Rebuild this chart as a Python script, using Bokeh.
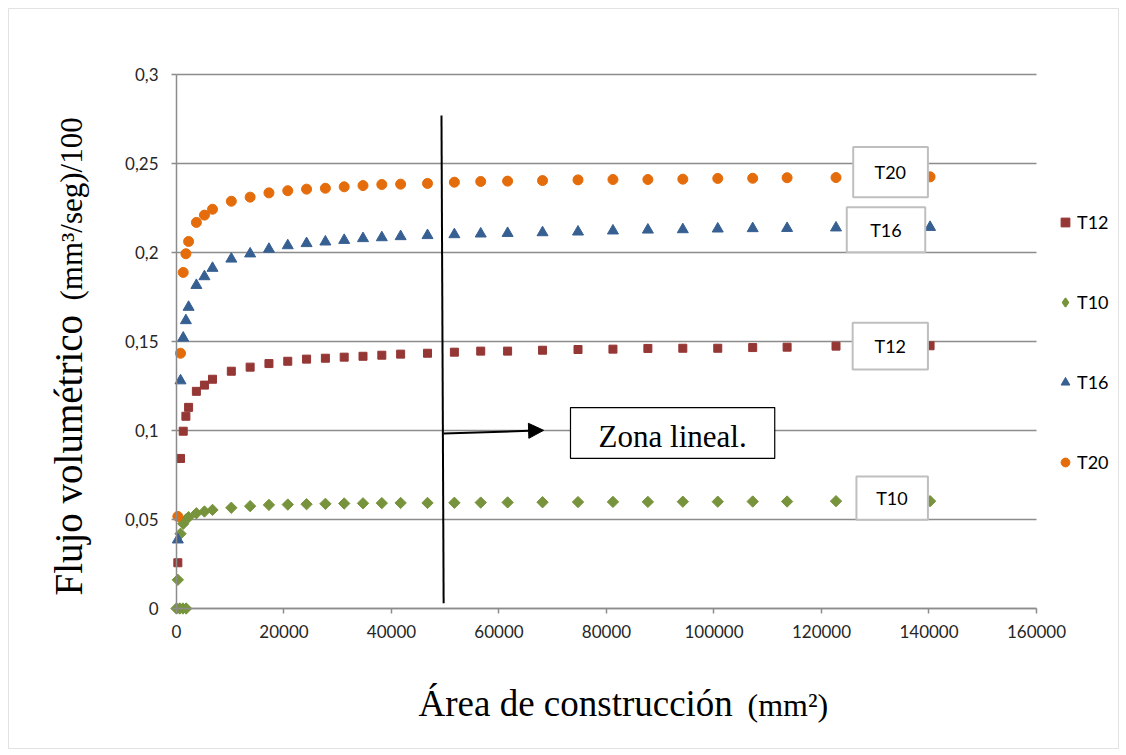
import math
from bokeh.plotting import figure
from bokeh.models import (FixedTicker, CustomJSTickFormatter, Label, Legend, LegendItem,
                          Arrow, NormalHead, Range1d, BoxAnnotation)
from bokeh.core.properties import value
from bokeh.embed import file_html
from bokeh.resources import INLINE

# ---------------- data ----------------
area = [250, 750, 1250, 1750, 2250, 3700, 5200, 6700, 10200, 13700, 17200, 20700,
        24200, 27700, 31200, 34700, 38200, 41700, 46700, 51700, 56600, 61600, 68100,
        74700, 81200, 87700, 94200, 100700, 107200, 113600, 122700, 140200]

t20 = [0.0517, 0.1434, 0.1888, 0.1993, 0.2062, 0.2169, 0.2210, 0.2243, 0.2288, 0.2311,
       0.2335, 0.2347, 0.2356, 0.2361, 0.2369, 0.2376, 0.2382, 0.2384, 0.2388, 0.2395,
       0.2399, 0.2401, 0.2404, 0.2408, 0.2410, 0.2410, 0.2412, 0.2416, 0.2417, 0.2420,
       0.2421, 0.2425]
t16 = [0.0386, 0.1280, 0.1520, 0.1618, 0.1693, 0.1816, 0.1865, 0.1912, 0.1964, 0.1993,
       0.2019, 0.2039, 0.2051, 0.2060, 0.2069, 0.2079, 0.2084, 0.2090, 0.2096, 0.2101,
       0.2105, 0.2108, 0.2112, 0.2116, 0.2122, 0.2127, 0.2129, 0.2133, 0.2135, 0.2136,
       0.2139, 0.2142]
t12 = [0.0257, 0.0843, 0.0996, 0.1080, 0.1130, 0.1220, 0.1255, 0.1288, 0.1333, 0.1356,
       0.1376, 0.1389, 0.1401, 0.1406, 0.1412, 0.1417, 0.1423, 0.1429, 0.1434, 0.1440,
       0.1446, 0.1446, 0.1451, 0.1455, 0.1457, 0.1461, 0.1462, 0.1462, 0.1466, 0.1468,
       0.1474, 0.1476]
t10 = [0.0161, 0.0420, 0.0476, 0.0500, 0.0513, 0.0535, 0.0545, 0.0554, 0.0566, 0.0575,
       0.0582, 0.0584, 0.0586, 0.0588, 0.0590, 0.0591, 0.0592, 0.0593, 0.0593, 0.0594,
       0.0595, 0.0596, 0.0597, 0.0598, 0.0599, 0.0599, 0.0600, 0.0600, 0.0601, 0.0601,
       0.0603, 0.0603]
t10_zero_area = [0, 600, 1200, 1800]
t10_zero_flow = [0, 0, 0, 0]

x_ticks = [0, 20000, 40000, 60000, 80000, 100000, 120000, 140000, 160000]
y_ticks = [0, 0.05, 0.1, 0.15, 0.2, 0.25, 0.3]

legend_order = ["T12", "T10", "T16", "T20"]

box_names = ["T20", "T16", "T12", "T10"]
box_left = [125900, 124700, 125800, 126500]
box_right = [139800, 139300, 139800, 139800]
box_bottom = [0.2311, 0.2002, 0.1343, 0.0498]
box_top = [0.2592, 0.2254, 0.1605, 0.0742]
box_text_x = [132800, 132000, 132800, 133100]
box_text_y = [0.2450, 0.2128, 0.1474, 0.0620]

zone_line_x = [49300, 49700]
zone_line_y = [0.277, 0.003]

colors = {"T12": "#953735", "T10": "#77933C", "T16": "#376092", "T20": "#E46C0A"}

# ---------------- figure (frame covers the whole canvas) ----------------
W, H = 1120, 750
p = figure(frame_width=W, frame_height=H,
           x_range=Range1d(-32744, 175628), y_range=Range1d(-0.079775, 0.341573),
           min_border_left=0, min_border_top=0, min_border_right=0, min_border_bottom=0,
           output_backend="svg", toolbar_location=None,
           background_fill_color="white", border_fill_color="white")
p.outline_line_color = None
p.xgrid.visible = False
p.ygrid.visible = False

grey = "#8c8c8c"

# chart-area border
p.add_layout(BoxAnnotation(left=8, right=1118, bottom=2, top=742,
                           left_units="screen", right_units="screen",
                           bottom_units="screen", top_units="screen",
                           fill_alpha=0, line_color="#a0a0a0", line_width=1))

# horizontal gridlines at the y ticks, limited to the plot area
p.segment(x0=[x_ticks[0]] * len(y_ticks), x1=[x_ticks[-1]] * len(y_ticks),
          y0=y_ticks, y1=y_ticks, line_color=grey, line_width=1.5)

for ax in (p.xaxis[0], p.yaxis[0]):
    ax.fixed_location = 0
    ax.axis_line_color = grey
    ax.axis_line_width = 1.5
    ax.major_tick_line_color = grey
    ax.major_tick_line_width = 1.5
    ax.major_tick_out = 5
    ax.major_tick_in = 0
    ax.minor_tick_line_color = None
    ax.major_label_text_font = "Lato"
    ax.major_label_text_font_size = "17px"
    ax.major_label_text_color = "#262626"

p.xaxis.bounds = (x_ticks[0], x_ticks[-1])
p.xaxis.ticker = FixedTicker(ticks=x_ticks)
p.xaxis.formatter = CustomJSTickFormatter(code="return tick.toFixed(0);")
p.xaxis.major_label_standoff = 11
p.yaxis.bounds = (y_ticks[0], y_ticks[-1])
p.yaxis.ticker = FixedTicker(ticks=y_ticks)
p.yaxis.formatter = CustomJSTickFormatter(code="return String(tick).replace('.', ',');")
p.yaxis.major_label_standoff = 13

# ---------------- series ----------------
t10_area_all = t10_zero_area + area
t10_all = t10_zero_flow + t10

r12 = p.scatter(area, t12, marker="square", size=8,
                fill_color=colors["T12"], line_color=colors["T12"])
# legend key for T10 (legend glyphs are never rotated); hidden under the rotated squares
r10_key = p.scatter(t10_area_all, t10_all, marker="diamond", size=8,
                    fill_color=colors["T10"], line_color=colors["T10"], line_width=1.5)
r10 = p.scatter(t10_area_all, t10_all, marker="square", angle=math.pi / 4,
                size=8, fill_color=colors["T10"], line_color=colors["T10"])
r16 = p.scatter(area, t16, marker="triangle", size=11,
                fill_color=colors["T16"], line_color=colors["T16"])
r20 = p.scatter(area, t20, marker="circle", size=10,
                fill_color=colors["T20"], line_color=colors["T20"])

renderers = {"T12": r12, "T10": r10_key, "T16": r16, "T20": r20}
legend = Legend(items=[LegendItem(label=n, renderers=[renderers[n]]) for n in legend_order],
                location=(1054, 277), orientation="vertical",
                glyph_width=22, glyph_height=22, label_height=22, spacing=58,
                label_standoff=1, padding=0, margin=0,
                label_text_font="Lato", label_text_font_size="18px",
                label_text_color="#000000", label_text_baseline="middle",
                border_line_color=None, background_fill_alpha=0)
p.add_layout(legend, "center")

# ---------------- series labels in boxes ----------------
p.quad(left=box_left, right=box_right, bottom=box_bottom, top=box_top,
       fill_color="white", line_color="#bfbfbf", line_width=2)
p.text(box_text_x, box_text_y, text=box_names, text_font=value("Lato"),
       text_font_size="18px", text_color="#000000",
       text_align="center", text_baseline="middle")

# ---------------- linear-zone annotation ----------------
p.line(zone_line_x, zone_line_y, line_color="black", line_width=2)
p.add_layout(Arrow(end=NormalHead(size=15, fill_color="black", line_color="black"),
                   x_start=49700, y_start=0.0983, x_end=68300, y_end=0.1001,
                   line_color="black", line_width=2))
p.quad(left=[73300], right=[111300], bottom=[0.0843], top=[0.1129],
       fill_color="white", line_color="black", line_width=1.2)
p.text([92300], [0.0969], text=["Zona lineal."], text_font=value("Liberation Serif"),
       text_font_size="31px", text_color="black", text_align="center",
       text_baseline="middle")

# ---------------- axis titles (screen px from bottom-left of canvas) ----------------
p.add_layout(Label(x=68, y=155, x_units="screen", y_units="screen",
                   text="Flujo volumétrico", angle=math.pi / 2,
                   text_font="Liberation Serif", text_font_size="39px",
                   text_align="left", text_baseline="middle", text_color="black"))
p.add_layout(Label(x=71, y=450, x_units="screen", y_units="screen",
                   text="(mm³/seg)/100", angle=math.pi / 2,
                   text_font="Liberation Serif", text_font_size="31px",
                   text_align="left", text_baseline="middle", text_color="black"))
p.add_layout(Label(x=418, y=47, x_units="screen", y_units="screen",
                   text="Área de construcción",
                   text_font="Liberation Serif", text_font_size="37px",
                   text_align="left", text_baseline="middle", text_color="black"))
p.add_layout(Label(x=747, y=46, x_units="screen", y_units="screen",
                   text="(mm²)",
                   text_font="Liberation Serif", text_font_size="32px",
                   text_align="left", text_baseline="middle", text_color="black"))

open("out.html", "w").write(file_html(p, INLINE))
